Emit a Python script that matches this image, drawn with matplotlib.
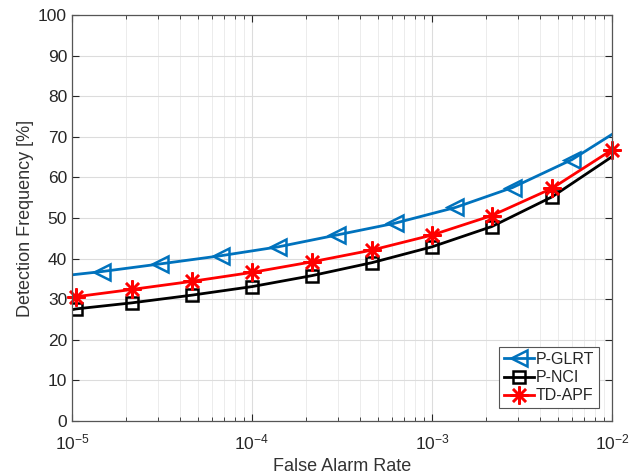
import numpy as np
import matplotlib.pyplot as plt

# false alarm rates and detection frequencies
far_glrt = [1e-5, 1.46e-5, 3.1e-5, 6.7e-5, 1.4e-4, 2.95e-4, 6.2e-4, 1.35e-3, 2.8e-3, 6.0e-3, 1e-2]
pd_glrt = [36.0, 36.8, 38.7, 40.7, 42.9, 45.8, 48.7, 52.6, 57.5, 64.4, 70.6]

far_nci = [1e-5, 1.05e-5, 2.15e-5, 4.64e-5, 1e-4, 2.15e-4, 4.64e-4, 1e-3, 2.15e-3, 4.64e-3, 1e-2]
pd_nci = [27.4, 27.6, 29.1, 31.0, 33.1, 35.8, 39.0, 42.9, 47.9, 55.2, 65.1]

far_apf = [1e-5, 1.05e-5, 2.15e-5, 4.64e-5, 1e-4, 2.15e-4, 4.64e-4, 1e-3, 2.15e-3, 4.64e-3, 1e-2]
pd_apf = [30.4, 30.6, 32.4, 34.4, 36.6, 39.2, 42.1, 45.8, 50.6, 57.3, 66.8]

txt = '#262626'
plt.rcParams['font.family'] = ['Liberation Sans', 'DejaVu Sans']
plt.rcParams['mathtext.fontset'] = 'custom'
plt.rcParams['mathtext.rm'] = 'Liberation Sans'
plt.rcParams['mathtext.it'] = 'Liberation Sans:italic'
plt.rcParams['mathtext.default'] = 'regular'

fig = plt.figure(figsize=(6.41, 4.75), dpi=100)
ax = fig.add_axes([0.1123, 0.1137, 0.8425, 0.8547])

ax.semilogx(far_glrt, pd_glrt, '-', color='#0072BD', lw=2.0, marker='<', ms=12,
            mfc='none', mew=1.8, markevery=list(range(1, 10)), label='P-GLRT')
ax.semilogx(far_nci, pd_nci, '-', color='black', lw=2.0, marker='s', ms=9,
            mfc='none', mew=1.8, markevery=list(range(1, 10)), label='P-NCI')
# MATLAB style '*' marker: 8 spoke asterisk
ax.semilogx(far_apf, pd_apf, '-', color='red', lw=2.0, marker=(8, 2, 0), ms=13,
            mew=1.8, markevery=list(range(1, 11)), label='TD-APF', clip_on=False)

ax.set_xlim(1e-5, 1e-2)
ax.set_ylim(0, 100)
ax.set_yticks(np.arange(0, 101, 10))
ax.set_xticks([1e-5, 1e-4, 1e-3, 1e-2])

ax.grid(True, which='major', color='#dcdcdc', lw=0.8)
ax.grid(True, which='minor', axis='x', color='#ececec', lw=0.7)
ax.tick_params(which='both', direction='in', top=True, right=True,
               colors=txt, labelsize=12.5)
ax.tick_params(which='major', length=5)
ax.tick_params(which='minor', length=3)
ax.tick_params(axis='x', pad=8)
for s in ax.spines.values():
    s.set_color('#555555')
    s.set_linewidth(0.9)

ax.set_xlabel('False Alarm Rate', fontsize=13, color='#333333', labelpad=4)
ax.set_ylabel('Detection Frequency [%]', fontsize=13, color='#333333', labelpad=3)

leg = ax.legend(loc='lower right', fontsize=11.5, handlelength=1.9,
                handletextpad=0.1, borderpad=0.3, labelspacing=0.2,
                borderaxespad=0.8, fancybox=False, framealpha=1)
leg.get_frame().set_edgecolor('#555555')
leg.get_frame().set_linewidth(0.8)
for t in leg.get_texts():
    t.set_color(txt)

fig.savefig('out.png', dpi=100)
